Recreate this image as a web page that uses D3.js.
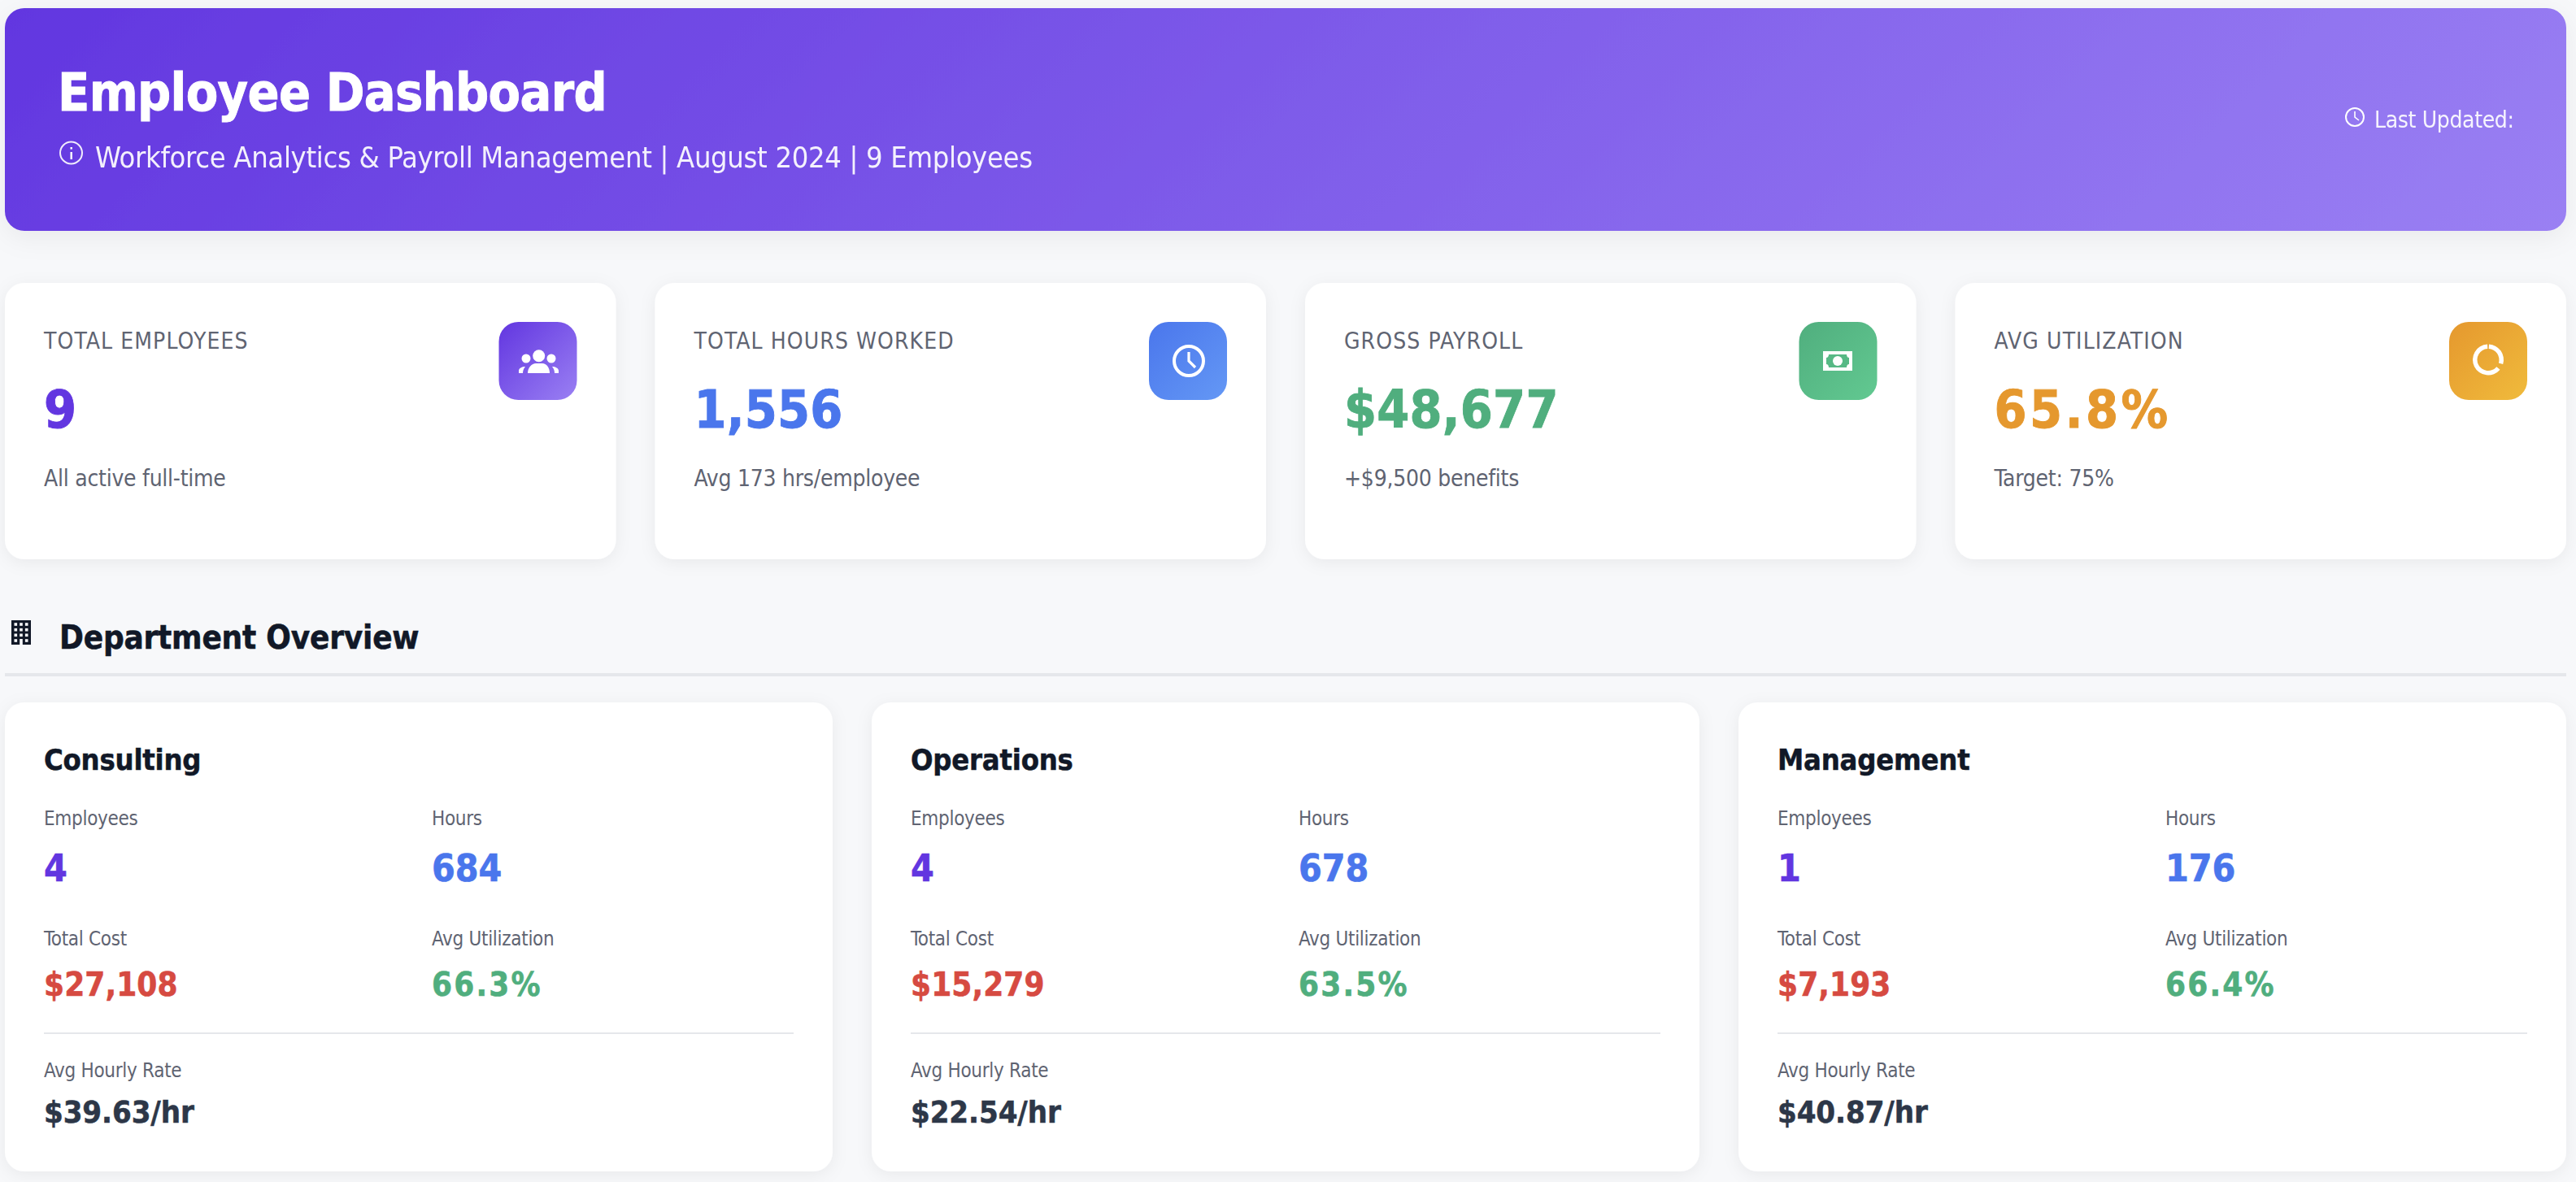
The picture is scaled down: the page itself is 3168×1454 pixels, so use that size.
<!DOCTYPE html>
<html>
<head>
<meta charset="utf-8">
<title>Employee Dashboard</title>
<script src="https://cdn.jsdelivr.net/npm/d3@7"></script>
<style>
  html, body { margin: 0; padding: 0; background: #f7f8fa; overflow: hidden; }
  svg { display: block; }
  text { font-family: "DejaVu Sans Condensed", "DejaVu Sans"; font-stretch: condensed; }
</style>
</head>
<body>
<svg id="chart"></svg>
<script>
let pageTitle = "Employee Dashboard";
let pageSubtitle = "Workforce Analytics & Payroll Management | August 2024 | 9 Employees";
let updatedLabel = "Last Updated:";
let sectionTitle = "Department Overview";

let kpiLabels = ["TOTAL EMPLOYEES", "TOTAL HOURS WORKED", "GROSS PAYROLL", "AVG UTILIZATION"];
let kpiValues = ["9", "1,556", "$48,677", "65.8%"];
let kpiNotes = ["All active full-time", "Avg 173 hrs/employee", "+$9,500 benefits", "Target: 75%"];
let kpiColors = ["#6236e0", "#4a76ec", "#50ae7e", "#e5982e"];
let kpiColorsEnd = ["#9a80f3", "#6498f5", "#62c991", "#f0bb3c"];

let deptNames = ["Consulting", "Operations", "Management"];
let deptEmployees = [4, 4, 1];
let deptHours = [684, 678, 176];
let deptCost = [27108, 15279, 7193];
let deptUtil = [66.3, 63.5, 66.4];
let deptRate = [39.63, 22.54, 40.87];

let w = 3168;
let h = 1454;
let left = 6;
let right = 3156;
let gap = 48;
let colGap = 32;
let pad = 48;

let svg = d3.select("#chart").attr("width", w).attr("height", h);
let defs = svg.append("defs");

let addGradient = (id, from, to) => {
  let g = defs.append("linearGradient").attr("id", id)
    .attr("x1", "0%").attr("y1", "0%").attr("x2", "100%").attr("y2", "100%");
  g.append("stop").attr("offset", "0%").attr("stop-color", from);
  g.append("stop").attr("offset", "100%").attr("stop-color", to);
  return g;
};

let addShadow = (id, dy, blur, alpha) => {
  defs.append("filter").attr("id", id)
    .attr("x", "-5%").attr("y", "-15%").attr("width", "110%").attr("height", "130%")
    .append("feDropShadow")
    .attr("dx", 0).attr("dy", dy).attr("stdDeviation", blur)
    .attr("flood-color", "#000").attr("flood-opacity", alpha);
};

let label = (parent, x, y, str, size, color, weight, spacing) => {
  let t = parent.append("text")
    .attr("x", x).attr("y", y)
    .attr("font-size", size)
    .attr("font-weight", weight || 400)
    .attr("letter-spacing", spacing || 0)
    .attr("fill", color)
    .text(str);
  // the bold face here is lighter than the one in the reference, thicken it a bit
  if (weight === 700) t.attr("stroke", color).attr("stroke-width", size * 0.014);
  return t;
};

let clockIcon = (parent, cx, cy, r, sw, color, hx, hy, up) => {
  parent.append("circle").attr("cx", cx).attr("cy", cy).attr("r", r)
    .attr("fill", "none").attr("stroke", color).attr("stroke-width", sw);
  parent.append("path")
    .attr("d", d3.line()([[cx, cy - up], [cx, cy], [cx + hx, cy + hy]]))
    .attr("fill", "none").attr("stroke", color).attr("stroke-width", sw * 0.8);
};

let drawHeader = () => {
  // same as css 135deg on a wide box, so it runs mostly left to right
  addGradient("headerFill", "#6236e0", "#9a80f3")
    .attr("gradientUnits", "userSpaceOnUse")
    .attr("x1", 725).attr("y1", -709).attr("x2", 2437).attr("y2", 1003);
  addShadow("headerShadow", 8, 16, 0.06);
  let g = svg.append("g");
  g.append("rect")
    .attr("x", left).attr("y", 10).attr("width", right - left).attr("height", 274)
    .attr("rx", 24).attr("fill", "url(#headerFill)").attr("filter", "url(#headerShadow)");

  label(g, 71, 136, pageTitle, 64, "#fff", 700, -0.65);
  label(g, 117, 206, pageSubtitle, 36, "#fff", 400, -0.32).attr("opacity", 0.92);

  g.append("circle").attr("cx", 87.5).attr("cy", 188).attr("r", 13.5)
    .attr("fill", "none").attr("stroke", "#fff").attr("stroke-width", 2).attr("opacity", 0.9);
  g.append("rect").attr("x", 86.5).attr("y", 187).attr("width", 2.4).attr("height", 9).attr("fill", "#fff");
  g.append("rect").attr("x", 86.5).attr("y", 181).attr("width", 2.4).attr("height", 2.6).attr("fill", "#fff");

  label(g, 2920, 157, updatedLabel, 28, "#fff", 400, -0.35).attr("opacity", 0.92);
  clockIcon(g, 2896, 144, 11, 2, "#fff", 5, 4, 7);
};

// white glyphs that sit in the kpi icon boxes
let iconPeople = (g) => {
  [[662.7, 437.7, 7.5], [647, 441, 5.5], [678, 441, 5.5]].forEach(c =>
    g.append("circle").attr("cx", c[0]).attr("cy", c[1]).attr("r", c[2]).attr("fill", "#fff"));
  g.append("path").attr("fill", "#fff").attr("d",
    "M649 459 C649 452 654 447 659 447 H667 C672 447 676 452 676 459 Z");
  g.append("path").attr("fill", "#fff").attr("d",
    "M638 459 V456 C638 453 642 451 646 451 C644 453 643 456 643 459 Z");
  g.append("path").attr("fill", "#fff").attr("d",
    "M687 459 V456 C687 453 683 451 679 451 C681 453 682 456 682 459 Z");
};

let iconClock = (g) => clockIcon(g, 1462, 444, 18, 4, "#fff", 8, 8, 11);

let iconMoney = (g) => {
  g.append("rect").attr("x", 2242).attr("y", 432).attr("width", 36).attr("height", 24).attr("fill", "#fff");
  g.append("path").attr("fill", "#57b985").attr("d",
    "M2249 436 H2271 C2271 438 2272 440 2274 440 V448 C2272 448 2271 450 2271 452 H2249 C2249 450 2248 448 2246 448 V440 C2248 440 2249 438 2249 436 Z");
  g.append("circle").attr("cx", 2260).attr("cy", 444).attr("r", 6).attr("fill", "#fff");
};

let iconDonut = (g) => {
  let ring = d3.arc().innerRadius(13.5).outerRadius(19);
  let deg = Math.PI / 180;
  [[3, 107], [130, 357]].forEach(a =>
    g.append("path")
      .attr("transform", "translate(3060,442.5)")
      .attr("d", ring({ startAngle: a[0] * deg, endAngle: a[1] * deg }))
      .attr("fill", "#fff"));
};

let kpiIcons = [iconPeople, iconClock, iconMoney, iconDonut];

let drawKpis = () => {
  let x = d3.scaleBand().domain(kpiLabels).range([left, right])
    .paddingInner(gap / ((right - left + gap) / kpiLabels.length));
  addShadow("cardShadow", 4, 10, 0.06);

  kpiLabels.forEach((name, i) => {
    let x0 = x(name);
    let bw = x.bandwidth();
    let g = svg.append("g");
    g.append("rect")
      .attr("x", x0).attr("y", 348).attr("width", bw).attr("height", 340)
      .attr("rx", 24).attr("fill", "#fff").attr("filter", "url(#cardShadow)");

    label(g, x0 + pad, 429, name, 28, "#5f6472", 400, 1.1);
    label(g, x0 + pad, 526, kpiValues[i], 64, kpiColors[i], 700, i === 3 ? 3.5 : 0.2);
    label(g, x0 + pad, 598, kpiNotes[i], 28, "#5f6472", 400, -0.25);

    addGradient("kpiFill" + i, kpiColors[i], kpiColorsEnd[i]);
    g.append("rect")
      .attr("x", x0 + bw - pad - 96).attr("y", 396).attr("width", 96).attr("height", 96)
      .attr("rx", 24).attr("fill", "url(#kpiFill" + i + ")");
    kpiIcons[i](g);
  });
};

let drawSection = () => {
  let g = svg.append("g");
  g.append("rect").attr("x", 14).attr("y", 763).attr("width", 24).attr("height", 30).attr("fill", "#111827");
  let wx = [19.3, 26, 32.7];
  let wy = [768, 774.7, 781.3, 788];
  wy.forEach((yy, r) => wx.forEach((xx, c) => {
    if (r === 3 && c === 1) {
      g.append("rect").attr("x", xx - 1.8).attr("y", yy - 2).attr("width", 3.6).attr("height", 7).attr("fill", "#f7f8fa");
    } else {
      g.append("rect").attr("x", xx - 1.8).attr("y", yy - 1.8).attr("width", 3.6).attr("height", 3.6).attr("fill", "#f7f8fa");
    }
  }));

  label(g, 73, 798, sectionTitle, 40, "#111827", 700, -0.2);
  g.append("rect").attr("x", left).attr("y", 828).attr("width", right - left).attr("height", 4).attr("fill", "#e5e7eb");
};

let drawDepts = () => {
  let x = d3.scaleBand().domain(deptNames).range([left, right])
    .paddingInner(gap / ((right - left + gap) / deptNames.length));
  let money = d3.format("$,");
  let rate = d3.format("$.2f");
  let colW = (x.bandwidth() - 2 * pad + colGap) / 2;
  let grey = "#5f6472";

  deptNames.forEach((name, i) => {
    let x0 = x(name);
    let bw = x.bandwidth();
    let tx = x0 + pad;
    let g = svg.append("g");
    g.append("rect")
      .attr("x", x0).attr("y", 864).attr("width", bw).attr("height", 577)
      .attr("rx", 24).attr("fill", "#fff").attr("filter", "url(#cardShadow)");

    label(g, tx, 947, name, 36, "#111827", 700, -0.2);

    label(g, tx, 1015, "Employees", 24, grey, 400, -0.3);
    label(g, tx, 1084, deptEmployees[i], 46, "#6236e0", 700);
    label(g, tx + colW, 1015, "Hours", 24, grey, 400, -0.3);
    label(g, tx + colW, 1084, deptHours[i], 46, "#4a76ec", 700);

    label(g, tx, 1163, "Total Cost", 24, grey, 400, -0.3);
    label(g, tx, 1225, money(deptCost[i]), 40, "#d64a41", 700, 0.1);
    label(g, tx + colW, 1163, "Avg Utilization", 24, grey, 400, -0.3);
    label(g, tx + colW, 1225, deptUtil[i] + "%", 40, "#50ae7e", 700, 2.2);

    g.append("rect").attr("x", tx).attr("y", 1270).attr("width", bw - 2 * pad).attr("height", 2).attr("fill", "#e5e7eb");

    label(g, tx, 1325, "Avg Hourly Rate", 24, grey, 400, -0.3);
    label(g, tx, 1381, rate(deptRate[i]) + "/hr", 38, "#2d3748", 700, -0.1);
  });
};

drawHeader();
drawKpis();
drawSection();
drawDepts();
</script>
</body>
</html>
